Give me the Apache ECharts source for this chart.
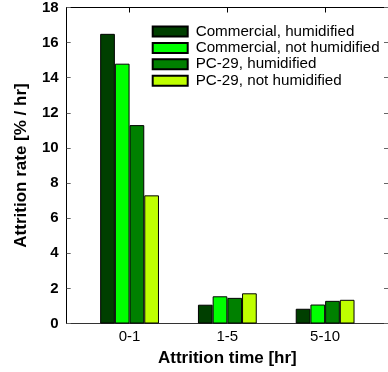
<!DOCTYPE html>
<html>
<head>
<meta charset="utf-8">
<style>html,body{margin:0;padding:0;background:#fff}#c{width:388px;height:372px}</style>
<script src="https://cdn.jsdelivr.net/npm/echarts@6/dist/echarts.min.js"></script>
</head>
<body>
<div id="c"></div>
<script>
const categories = ['0-1', '1-5', '5-10'];
const seriesNames = ['Commercial, humidified', 'Commercial, not humidified', 'PC-29, humidified', 'PC-29, not humidified'];
const commercialHumid = [16.5, 1.07, 0.84];
const commercialNotHumid = [14.8, 1.55, 1.08];
const pc29Humid = [11.3, 1.46, 1.29];
const pc29NotHumid = [7.3, 1.72, 1.35];
const yTicks = [0, 2, 4, 6, 8, 10, 12, 14, 16, 18];
const colors = ['#003f00', '#00ff00', '#008000', '#bfff00'];

const allValues = [commercialHumid, commercialNotHumid, pc29Humid, pc29NotHumid];
const positions = categories.map((c, i) => i + 1);
const font = 'Liberation Sans, Arial, sans-serif';

const chart = echarts.init(document.getElementById('c'), null, {renderer: 'canvas'});
chart.setOption({
  animation: false,
  backgroundColor: '#fff',
  grid: {left: 66.7, top: 6.7, right: -2.3, bottom: 47.7, containLabel: false},
  legend: {
    orient: 'vertical', left: 151.7, top: 24, padding: 0,
    itemWidth: 35, itemHeight: 10, itemGap: 1.4, icon: 'rect',
    data: seriesNames,
    textStyle: {fontFamily: font, fontSize: 15.2, color: '#000', lineHeight: 15, padding: [0, 0, 0, 3]}
  },
  xAxis: [{
    type: 'value', min: 0.357, max: 3.643, position: 'bottom',
    name: 'Attrition time [hr]', nameLocation: 'middle', nameGap: 26.5,
    nameTextStyle: {fontFamily: font, fontSize: 17, fontWeight: 'bold', color: '#000'},
    axisLine: {show: true, onZero: false, lineStyle: {color: '#333', width: 1}},
    axisTick: {show: false},
    splitLine: {show: false},
    axisLabel: {customValues: positions, formatter: v => categories[Math.round(v) - 1] || '',
      fontFamily: font, fontSize: 15, color: '#000', margin: 6}
  }, {
    type: 'value', min: 0.357, max: 3.643, position: 'top',
    axisLine: {show: true, onZero: false, lineStyle: {color: '#000', width: 1}},
    axisTick: {show: true, inside: true, length: 5, customValues: positions, lineStyle: {color: '#000'}},
    axisLabel: {show: false}, splitLine: {show: false}
  }],
  yAxis: [{
    type: 'value', min: 0, max: 18, interval: 2, position: 'left',
    name: 'Attrition rate [% / hr]', nameLocation: 'middle', nameGap: 36.7,
    nameTextStyle: {fontFamily: font, fontSize: 17, fontWeight: 'bold', color: '#000'},
    axisLine: {show: true, lineStyle: {color: '#000', width: 1}},
    axisTick: {show: true, inside: true, length: 4, lineStyle: {color: '#666'}},
    splitLine: {show: false},
    axisLabel: {fontFamily: font, fontSize: 15, fontWeight: 'bold', color: '#000', margin: 8,
      formatter: v => yTicks.includes(v) ? String(v) : ''}
  }, {
    type: 'value', min: 0, max: 18, interval: 2, position: 'right',
    axisLine: {show: true, lineStyle: {color: '#000', width: 1}},
    axisTick: {show: true, inside: true, length: 4, lineStyle: {color: '#666'}},
    axisLabel: {show: false}, splitLine: {show: false}
  }],
  series: seriesNames.map((name, s) => ({
    name: name, type: 'bar', xAxisIndex: 0, yAxisIndex: 0,
    barWidth: 14.7, barGap: '0%',
    itemStyle: {color: colors[s], borderColor: '#000', borderWidth: 1},
    data: allValues[s].map((v, i) => [positions[i], v])
  }))
});
</script>
</body>
</html>
